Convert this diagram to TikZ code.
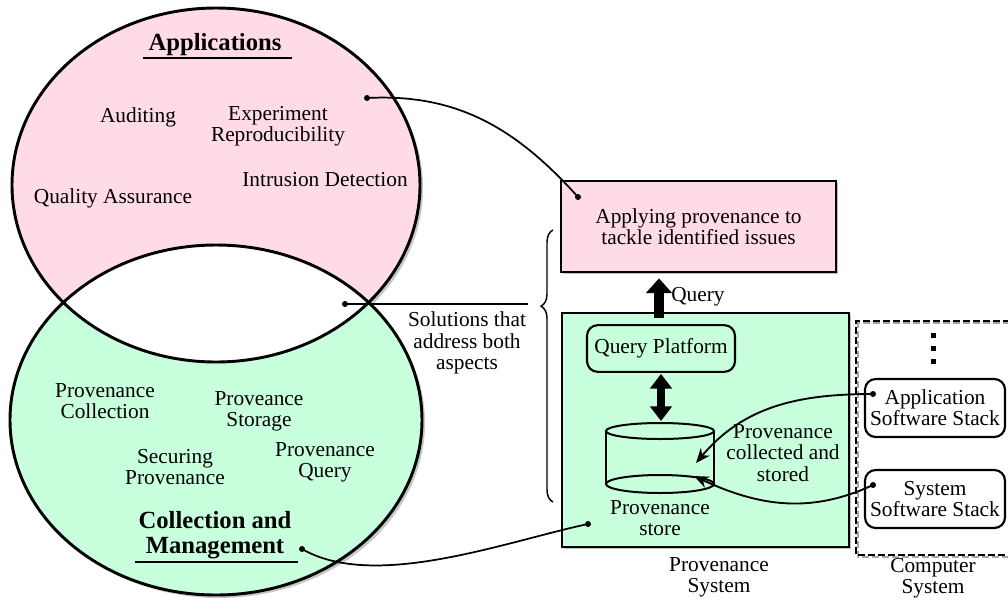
\documentclass[tikz,border=0pt]{standalone}
\usepackage{fontspec}
\setmainfont{Liberation Serif}
\usetikzlibrary{arrows.meta,decorations.pathreplacing,shadows,calc}

\definecolor{pinkfill}{RGB}{255,220,229}
\definecolor{greenfill}{RGB}{200,255,221}

\begin{document}
\begin{tikzpicture}[x=0.75pt,y=-0.75pt,
  txt/.style={align=center, font=\fontsize{16}{16}\selectfont, inner sep=0pt},
  headtxt/.style={align=center, font=\fontsize{18.5}{19}\selectfont\bfseries, inner sep=0pt},
  outline/.style={line width=2.2pt},
  shade/.style={drop shadow={shadow xshift=1.6pt, shadow yshift=-1.6pt, fill=black, opacity=0.25}},
  box/.style={draw, line width=1.8pt, shade},
  rbox/.style={draw, line width=1.6pt, rounded corners=8pt, fill=white},
  conn/.style={line width=1.3pt},
  dot/.style={circle, fill=black, inner sep=0pt, minimum size=4.5pt},
  bigarrow/.style={line width=7pt, -{Triangle[width=19pt,length=11pt]}},
  dblarrow/.style={line width=6pt, {Triangle[width=16pt,length=11pt]}-{Triangle[width=16pt,length=11pt]}},
  flow/.style={line width=1.4pt, -{Stealth[length=11pt,width=9pt]}},
  cyl/.style={line width=1.5pt}
]
\useasboundingbox (0,0) rectangle (1008,601);

% ---- the two overlapping ellipses ----
\fill[black, opacity=0.22] (219,188) ellipse [x radius=204, y radius=177];
\fill[black, opacity=0.22] (219,423) ellipse [x radius=206, y radius=175];
\fill[pinkfill] (216,185) ellipse [x radius=204, y radius=177];
\fill[greenfill] (216,420) ellipse [x radius=206, y radius=175];
\begin{scope}
  \clip (216,185) ellipse [x radius=204, y radius=177];
  \fill[white] (216,420) ellipse [x radius=206, y radius=175];
\end{scope}
\draw[outline] (216,185) ellipse [x radius=204, y radius=177];
\draw[outline] (216,420) ellipse [x radius=206, y radius=175];

% ---- application topics ----
\node[headtxt] (apps) at (215,45) {Applications};
\draw[line width=1.3pt] (143,58) -- (292,58);
\node[txt] (audit) at (138,117) {Auditing};
\node[txt] (repro) at (278,126) {Experiment\\Reproducibility};
\node[txt] (intr) at (325,180) {Intrusion Detection};
\node[txt] (qa) at (113,198) {Quality Assurance};

% ---- collection and management topics ----
\node[txt] (pcoll) at (105,401) {Provenance\\Collection};
\node[txt] (pstor) at (259,411) {Proveance\\Storage};
\node[txt] (psec) at (175,467) {Securing\\Provenance};
\node[txt] (pquery) at (325,462) {Provenance\\Query};
\node[headtxt] (mgmt) at (215,535) {Collection and\\Management};
\draw[line width=1.3pt] (135,562) -- (298,562);

% ---- solutions in the overlap ----
\node[txt] (sol) at (467,343) {Solutions that\\address both\\aspects};
\draw[line width=1.1pt, decorate, decoration={brace, amplitude=9pt, aspect=0.72}]
  (553,502) -- (553,230);

% ---- provenance system ----
\node[box, fill=pinkfill, txt, minimum width=206pt, minimum height=68pt]
  (apply) at (698.5,226.5) {Applying provenance to\\tackle identified issues};
\node[box, fill=greenfill, minimum width=215pt, minimum height=175.5pt]
  (psys) at (705.5,430) {};
\node[txt] (psyslbl) at (719,577) {Provenance\\System};

\node[rbox, fill=greenfill, txt, minimum width=111pt, minimum height=35pt]
  (qp) at (661,348.5) {Query Platform};

% provenance store (cylinder)
\fill[greenfill] (606,431) rectangle (714,484);
\draw[cyl] (660,484) ellipse [x radius=54, y radius=9];
\draw[cyl] (606,431) -- (606,484) (714,431) -- (714,484);
\draw[cyl] (660,431) ellipse [x radius=54, y radius=8];
\coordinate (storetop) at (661,421);
\coordinate (in1) at (696,463);
\coordinate (in2) at (694,476);
\node[txt] (storelbl) at (660,518) {Provenance\\store};
\node[txt] (collected) at (783,453) {Provenance\\collected and\\stored};

% query arrows
\draw[bigarrow, shorten >=4pt] (qp.north -| 659,0) ++(0,-6) coordinate (qstart)
  (qstart) -- (apply.south -| qstart);
\node[txt, anchor=west] (qlbl) at (671,297) {Query};
\draw[dblarrow] (qp.south) ++(0,1) coordinate (dtop) (dtop) -- (storetop);

% ---- computer system ----
\draw[line width=1.2pt, black!35, dash pattern=on 5pt off 2.5pt]
  (1010,323) -- (858,323) -- (858,557) -- (1010,557);
\draw[line width=1.2pt, dash pattern=on 5pt off 2.5pt]
  (1010,321) -- (856,321) -- (856,555) -- (1010,555);
\node[txt] (cslbl) at (933,578) {Computer\\System};
\node[rbox, txt, minimum width=105pt, minimum height=43.5pt]
  (app) at (935,408) {Application\\Software Stack};
\node[rbox, txt, minimum width=105pt, minimum height=43.5pt]
  (sys) at (935,499) {System\\Software Stack};
\fill (930.5,333) rectangle (935.5,338);
\fill (930.5,346) rectangle (935.5,351);
\fill (930.5,359) rectangle (935.5,364);

% ---- connector dots ----
\node[dot] (dapps) at (367,98) {};
\node[dot] (dapply) at (578,197) {};
\node[dot] (dsol) at (345,304) {};
\coordinate (solend) at (528,304);
\node[dot] (dmgmt) at (302,549) {};
\node[dot] (dpsys) at (588,524) {};
\node[dot] (dapp) at (873,394) {};
\node[dot] (dsys) at (873,485) {};

% ---- connectors ----
\draw[conn] (dapps.center) to[out=3, in=132] (dapply.center);
\draw[conn] (dsol.center) -- (solend);
\draw[conn] (dmgmt.center) to[out=-30, in=192, looseness=0.75] (dpsys.center);
\draw[flow] (dapp.center) to[out=180, in=50] (in1);
\draw[flow] (dsys.center) to[out=205, in=-25] (in2);
\end{tikzpicture}
\end{document}
